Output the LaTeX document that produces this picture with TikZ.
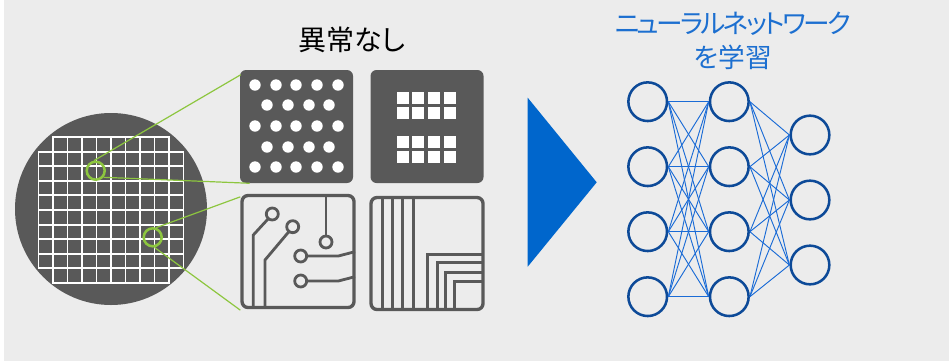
\documentclass[tikz,border=0pt]{standalone}
\usepackage{fontspec}
\usepackage{xcolor}
\newfontfamily\jpfont{Noto Sans CJK JP}[RawFeature=+palt]
\usetikzlibrary{calc,positioning}

\definecolor{bggray}{HTML}{ECECEC}
\definecolor{tilegray}{HTML}{595959}
\definecolor{spotgreen}{HTML}{8DC63F}
\definecolor{arrowblue}{HTML}{0066CC}
\definecolor{nnring}{HTML}{0D4A98}
\definecolor{nnlink}{HTML}{1A6BD6}
\definecolor{titleblue}{HTML}{1C6FD0}

\begin{document}
\begin{tikzpicture}[
  x=0.75pt, y=-0.75pt,
  tile/.style={fill=tilegray, rounded corners=4.5pt, minimum width=84.75pt, minimum height=84.75pt, inner sep=0pt},
  frame/.style={draw=tilegray, line width=2.5pt, rounded corners=4.5pt, minimum width=84pt, minimum height=84pt, inner sep=0pt},
  trace/.style={draw=tilegray, line width=2.1pt},
  cell/.style={draw=white, line width=1.4pt},
  spot/.style={circle, draw=spotgreen, line width=1.9pt, minimum size=13.5pt, inner sep=0pt},
  zoomline/.style={draw=spotgreen, line width=0.9pt},
  neuron/.style={circle, draw=nnring, line width=1.9pt, minimum size=29pt, inner sep=0pt},
  link/.style={draw=nnlink, line width=0.7pt}
]
\useasboundingbox (0,0) rectangle (949,361);
\fill[bggray] (4,0) rectangle (949,361);

% wafer with its die grid
\node[circle, fill=tilegray, minimum size=144pt, inner sep=0pt] (wafer) at (111,209) {};
\foreach \i in {0,...,9}{
  \foreach \j in {0,...,9}{
    \pgfmathtruncatemacro\corner{(\i==0 || \i==9) && (\j==0 || \j==9)}
    \ifnum\corner=0
      \draw[cell] ({38.5+14.5*\i},{137+14.6*\j}) rectangle ++(14.5,14.6);
    \fi
  }
}
\node[spot] (spotA) at (95.7,170.7) {};
\node[spot] (spotB) at (152.7,237.3) {};

% pattern tiles
\node[tile] (dots) at (296.5,126.5) {};
\node[tile] (blocks) at (427,126.5) {};
\node[frame] (circuit) at (298,251.5) {};
\node[frame] (stripes) at (427,253.5) {};

\draw[zoomline] (spotA.100) -- ($(dots.north west)+(1,5)$);
\draw[zoomline] (spotA.-40) -- ($(dots.south west)+(10,0)$);
\draw[zoomline] (spotB.70) -- ($(circuit.north west)+(0,3)$);
\draw[zoomline] (spotB.-80) -- ($(circuit.south west)+(0,1)$);

\node[font=\jpfont\fontsize{21pt}{25pt}\selectfont] (normal) at (352,40) {異常なし};

% dot array
\foreach \y in {85,126,167}
  \foreach \x in {255,276,296,317,338}
    \fill[white] (\x,\y) circle (5.7);
\foreach \y in {105,147}
  \foreach \x in {267,288,309,329}
    \fill[white] (\x,\y) circle (5.7);

% pad blocks
\foreach \y in {91.7,106.7,136,151}
  \foreach \x in {396.7,412.3,428.3,444}
    \fill[white] (\x,\y) rectangle ++(12,12);

% circuit traces
\draw[trace] (326,197) -- (326,236);
\draw[trace] (326,242) circle (6);
\draw[trace] (272.3,214) circle (6);
\draw[trace] (268,219) -- (253.3,235) -- (253.3,308);
\draw[trace] (292.7,226.7) circle (6);
\draw[trace] (289,231.5) -- (265,260) -- (265,308);
\foreach \y in {256,281}{
  \draw[trace] (300.7,\y) circle (6);
  \draw[trace] (306.7,\y) -- (338.3,\y) -- (355,\y-4.3);
}

% stripes and nested corners
\foreach \x in {382.7,392.3,402.3,413.3}
  \draw[trace] (\x,197) -- (\x,310);
\foreach \x/\y in {427.7/254.3,437.3/262.7,445.7/272.3,454.3/281.7}
  \draw[trace] (483,\y) -- (\x,\y) -- (\x,310);

% arrow
\fill[arrowblue] (527.7,97.7) -- (596.7,182.3) -- (527.7,266.7) -- cycle;

\node[align=center, text=titleblue, font=\jpfont\fontsize{20pt}{25.5pt}\selectfont] (learn) at (733,40.5)
  {{\addfontfeature{LetterSpace=-10}ニューラルネットワーク}\\を学習};

% network
\foreach \k/\y in {1/101.7,2/166.7,3/231.7,4/296.7}{
  \node[neuron] (a\k) at (647.7,\y) {};
  \node[neuron] (b\k) at (729.3,\y) {};
}
\foreach \k/\y in {1/135,2/200,3/265}
  \node[neuron] (c\k) at (810,\y) {};
\foreach \i in {1,...,4}{
  \foreach \j in {1,...,4}
    \draw[link] (a\i.east) -- (b\j.west);
  \foreach \j in {1,...,3}
    \draw[link] (b\i.east) -- (c\j.west);
}
\end{tikzpicture}
\end{document}
